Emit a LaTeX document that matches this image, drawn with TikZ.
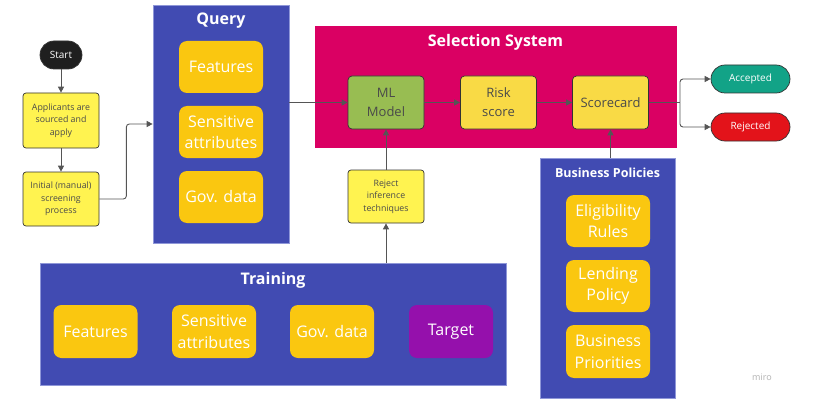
\documentclass[tikz,border=0pt]{standalone}
\usepackage{fontspec}
\setmainfont{Open Sans}
\usetikzlibrary{arrows.meta}
\definecolor{panelblue}{HTML}{414BB2}
\definecolor{panelline}{HTML}{8F97D8}
\definecolor{selpink}{HTML}{DA0063}
\definecolor{dataamber}{HTML}{FAC710}
\definecolor{targetpurple}{HTML}{9510AC}
\definecolor{flowyellow}{HTML}{FFF350}
\definecolor{stepyellow}{HTML}{F9DA45}
\definecolor{modelgreen}{HTML}{98BD52}
\definecolor{accteal}{HTML}{12A387}
\definecolor{rejred}{HTML}{E3131A}
\definecolor{inktext}{HTML}{4A4A4A}
\definecolor{wirecol}{HTML}{555555}
\begin{document}
\begin{tikzpicture}[x=1pt,y=-1pt,
	panel/.style={fill=panelblue,draw=panelline,line width=0.7pt,inner sep=0pt},
	paneltitle/.style={text=white,font=\fontsize{16}{19}\selectfont\bfseries},
	databox/.style={fill=dataamber,rounded corners=8pt,minimum width=84pt,minimum height=52pt,inner sep=0pt,text=white,align=center,font=\fontsize{16}{21.5}\selectfont},
	stepbox/.style={fill=stepyellow,draw=black!80,line width=0.7pt,rounded corners=4pt,minimum width=76pt,minimum height=53pt,inner sep=0pt,text=inktext,align=center,font=\fontsize{13}{19}\selectfont},
	flowbox/.style={fill=flowyellow,draw=black!80,line width=0.7pt,rounded corners=3pt,minimum width=76pt,minimum height=54pt,inner sep=0pt,text=inktext,align=center,font=\fontsize{8.8}{12.5}\selectfont},
	pill/.style={rounded corners=14pt,draw=black!80,line width=0.7pt,minimum width=79pt,minimum height=28pt,inner sep=0pt,text=white,font=\fontsize{10}{12}\selectfont},
	wire/.style={draw=wirecol,line width=0.9pt},
	tip/.style={wire,-{Triangle[length=6pt,width=6pt]}}]
		\useasboundingbox[fill=white] (0,0) rectangle (813,409);
		\node[panel,minimum width=136pt,minimum height=238pt] (query) at (221,124) {};
		\node[paneltitle] (querytitle) at (221,21) {Query};
		\node[databox] (qfeat) at (221,67) {Features};
		\node[databox] (qsens) at (221,132) {Sensitive\\attributes};
		\node[databox] (qgov) at (221,197) {Gov. data};
		\node[panel,fill=selpink,draw=selpink,minimum width=361pt,minimum height=121pt] (sel) at (495.5,86.5) {};
		\node[paneltitle] (seltitle) at (495.5,42) {Selection System};
		\node[stepbox,fill=modelgreen] (ml) at (386,102.5) {ML\\Model};
		\node[stepbox] (risk) at (498.5,102.5) {Risk\\score};
		\node[stepbox] (score) at (610.5,102.5) {Scorecard};
		\node[panel,minimum width=466pt,minimum height=122pt] (train) at (273,324) {};
		\node[paneltitle] (traintitle) at (273,280) {Training};
		\node[databox,minimum height=53pt] (tfeat) at (95.5,331.5) {Features};
		\node[databox,minimum height=53pt] (tsens) at (214,331.5) {Sensitive\\attributes};
		\node[databox,minimum height=53pt] (tgov) at (332,331.5) {Gov. data};
		\node[databox,minimum height=53pt,fill=targetpurple] (ttarget) at (451,331.5) {Target};
		\node[panel,minimum width=135pt,minimum height=240pt] (bp) at (607.5,278) {};
		\node[paneltitle,font=\fontsize{12.5}{15}\selectfont\bfseries] (bptitle) at (607.5,173) {Business Policies};
		\node[databox] (bpelig) at (608,221) {Eligibility\\Rules};
		\node[databox] (bplend) at (608,286) {Lending\\Policy};
		\node[databox,minimum height=53pt] (bpprio) at (608,351.5) {Business\\Priorities};
		\node[pill,fill=black!88,minimum width=42pt] (start) at (61,55) {Start};
		\node[flowbox,minimum height=55pt] (apply) at (61,120.5) {Applicants are\\sourced and\\apply};
		\node[flowbox] (screen) at (61,199) {Initial (manual)\\screening\\process};
		\node[flowbox,minimum height=53pt] (reject) at (386,196.5) {Reject\\inference\\techniques};
		\node[pill,fill=accteal] (acc) at (750.5,79) {Accepted};
		\node[pill,fill=rejred] (rej) at (750.5,127) {Rejected};
		\node[text=black!30,font=\fontsize{9}{11}\selectfont] (brand) at (762,377) {miro};
		\draw[tip] (start) -- (apply);
		\draw[tip] (apply) -- (screen);
		\draw[tip,rounded corners=3pt] (screen.east) -- ++(27,0) |- (query.west);
		\draw[tip] (ml.west -| query.east) -- (ml.west);
		\draw[tip] (ml) -- (risk);
		\draw[tip] (risk) -- (score);
		\coordinate (split) at (680,102.5);
		\draw[wire] (score.east) -- (split);
		\draw[tip,rounded corners=3pt] (split) |- (acc.west);
		\draw[tip,rounded corners=3pt] (split) |- (rej.west);
		\draw[tip] (reject.north) -- (ml.south);
		\draw[tip] (reject.south |- train.north) -- (reject.south);
		\draw[tip] (score.south |- bp.north) -- (score.south);
\end{tikzpicture}
\end{document}
